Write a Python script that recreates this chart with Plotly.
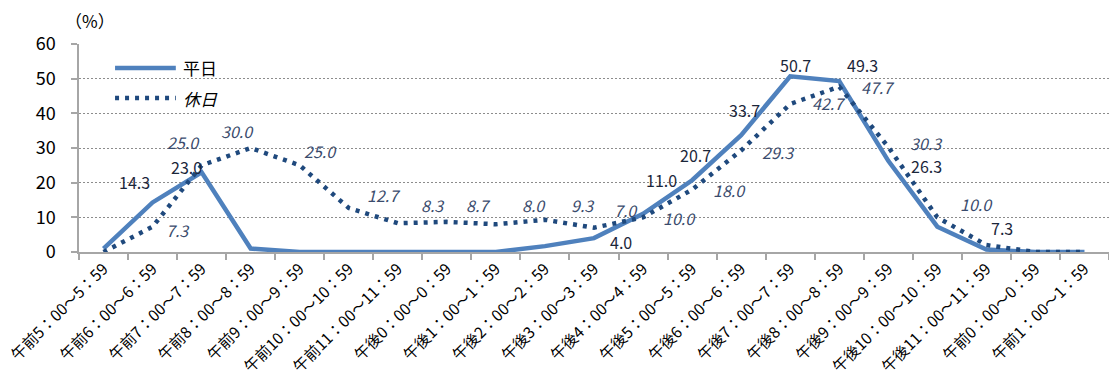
import plotly.graph_objects as go

categories = [
    "午前5：00～5：59", "午前6：00～6：59", "午前7：00～7：59", "午前8：00～8：59",
    "午前9：00～9：59", "午前10：00～10：59", "午前11：00～11：59", "午後0：00～0：59",
    "午後1：00～1：59", "午後2：00～2：59", "午後3：00～3：59", "午後4：00～4：59",
    "午後5：00～5：59", "午後6：00～6：59", "午後7：00～7：59", "午後8：00～8：59",
    "午後9：00～9：59", "午後10：00～10：59", "午後11：00～11：59", "午前0：00～0：59",
    "午前1：00～1：59",
]
weekday = [1.0, 14.3, 23.0, 1.0, 0.0, 0.0, 0.0, 0.0, 0.0, 1.7, 4.0, 11.0, 20.7, 33.7,
           50.7, 49.3, 26.3, 7.3, 0.7, 0.0, 0.0]
holiday = [0.0, 7.3, 25.0, 30.0, 25.0, 12.7, 8.3, 8.7, 8.0, 9.3, 7.0, 10.0, 18.0, 29.3,
           42.7, 47.7, 30.3, 10.0, 2.0, 0.0, 0.0]
series_names = ["平日", "休日"]
y_ticks = [0, 10, 20, 30, 40, 50, 60]

# label placement offsets (pixels: dx right, dy down); None = no label
weekday_label_offsets = [None, (-18, -20), (-15, -5), None, None, None, None, None, None,
                         None, (27, 4), (18, -34), (3, -25), (3, -25), (5, -11), (23, -16),
                         (38, 5), (65, 1), None, None, None]
holiday_label_offsets = [None, (25, 3), (-18, -23), (-13, -17), (21, -14), (35, -13),
                         (35, -18), (31, -17), (38, -19), (38, -15), (32, -18), (36, 1),
                         (37, 0), (37, 2), (38, -1), (38, 0), (38, -4), (39, -13),
                         None, None, None]

FONT = "Noto Sans CJK JP"
WEEKDAY_COLOR = "#4F81BD"
HOLIDAY_COLOR = "#1F497D"
HOLIDAY_DASH = "4px,6px"

fig = go.Figure()
fig.add_trace(go.Scatter(
    x=categories, y=weekday, mode="lines", name=series_names[0], showlegend=False,
    line=dict(color=WEEKDAY_COLOR, width=4.5),
))
fig.add_trace(go.Scatter(
    x=categories, y=holiday, mode="lines", name=series_names[1], showlegend=False,
    line=dict(color=HOLIDAY_COLOR, width=4.5, dash=HOLIDAY_DASH),
))

annotations = []
for i, (c, v) in enumerate(zip(categories, weekday)):
    off = weekday_label_offsets[i]
    if off is None:
        continue
    annotations.append(dict(
        x=c, y=v, xref="x", yref="y", text=f"{v:.1f}", showarrow=False,
        xshift=off[0], yshift=-off[1], xanchor="center", yanchor="middle",
        font=dict(family=FONT, size=16, color="#1B263A"),
    ))
for i, (c, v) in enumerate(zip(categories, holiday)):
    off = holiday_label_offsets[i]
    if off is None:
        continue
    annotations.append(dict(
        x=c, y=v, xref="x", yref="y", text=f"<i>{v:.1f}</i>", showarrow=False,
        xshift=off[0], yshift=-off[1], xanchor="center", yanchor="middle",
        font=dict(family=FONT, size=16, color="#3A4B6C"),
    ))
annotations.append(dict(
    x=0.011, y=1.115, xref="paper", yref="paper", text="（%）", showarrow=False,
    xanchor="center", yanchor="middle", font=dict(family=FONT, size=17, color="#000000"),
))

# legend (drawn in the plot's top-left corner)
legend_rows = [(0.885, series_names[0], WEEKDAY_COLOR, "solid", False),
               (0.740, series_names[1], HOLIDAY_COLOR, HOLIDAY_DASH, True)]
shapes = []
for ly, name, color, dash, italic in legend_rows:
    shapes.append(dict(
        type="line", xref="paper", yref="paper", x0=0.035, x1=0.094, y0=ly, y1=ly,
        line=dict(color=color, width=4.5, dash=dash),
    ))
    annotations.append(dict(
        x=0.099, y=ly, xref="paper", yref="paper",
        text=f"<i>{name}</i>" if italic else name, showarrow=False,
        xanchor="left", yanchor="middle", font=dict(family=FONT, size=17, color="#000000"),
    ))

fig.update_layout(
    width=1109, height=381,
    margin=dict(l=79, r=0, t=44, b=129),
    paper_bgcolor="white", plot_bgcolor="white",
    font=dict(family=FONT, color="#000000"),
    showlegend=False,
    annotations=annotations,
    shapes=shapes,
)
fig.update_xaxes(
    type="category", range=[-0.5, len(categories) - 0.5],
    showline=True, linecolor="#A6A6A6", linewidth=1.5,
    ticks="outside", tickson="boundaries", ticklen=6, tickcolor="#A6A6A6", tickwidth=1.5,
    tickangle=-45, tickfont=dict(family=FONT, size=15.5, color="#000000"),
    showgrid=False,
)
fig.update_yaxes(
    range=[0, 60], tickvals=y_ticks, ticktext=[str(t) for t in y_ticks],
    showline=True, linecolor="#A6A6A6", linewidth=1.5,
    ticks="outside", ticklen=6, tickcolor="#A6A6A6", tickwidth=1.5,
    ticklabelstandoff=12,
    tickfont=dict(family=FONT, size=18, color="#000000"),
    showgrid=True, gridcolor="#8C8C8C", gridwidth=1, griddash="2px,2px",
    zeroline=False,
)
fig.write_html("out.html")
